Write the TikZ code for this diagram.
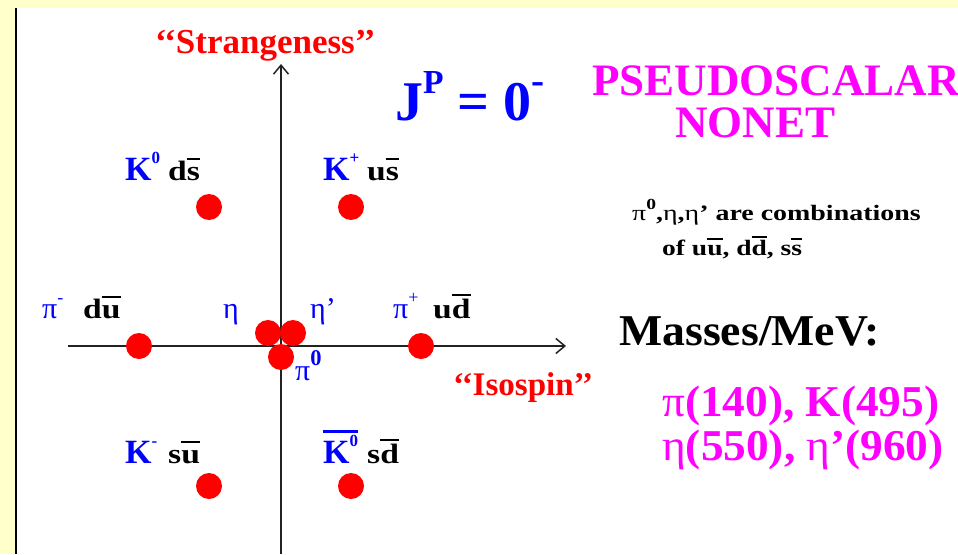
\documentclass[tikz,border=0pt]{standalone}
\usepackage{fontspec}
\setmainfont{Liberation Serif}
\usetikzlibrary{arrows.meta,positioning}
\definecolor{slidebg}{HTML}{FFFFCC}
\definecolor{axisink}{HTML}{222222}
\definecolor{dotred}{HTML}{FF0000}
\definecolor{mesblue}{HTML}{0000FF}
\definecolor{titlemag}{HTML}{FF00FF}
\newsavebox\antibox
\newcommand\anti[1]{\sbox\antibox{#1}%
  \ifdim\ht\antibox<0.62em \ht\antibox=0.62em\fi
  \rlap{\raisebox{\dimexpr\ht\antibox+0.08em\relax}{\rule{\wd\antibox}{0.07em}}}\usebox\antibox}
\newcommand\up[2][0.5]{\raisebox{0.48em}{\scalebox{#1}{#2}}}
\newcommand\gr[1]{{\mdseries #1}}
\newcommand\wide[2][1.2]{\scalebox{#1}[1]{#2}}
\tikzset{
  meson/.style={circle,fill=dotred,inner sep=0pt,minimum size=26pt},
  axisarr/.style={-{Straight Barb[length=9pt,width=15pt]},line width=1.5pt,color=axisink},
  axisname/.style={text=dotred,font=\fontsize{33}{36}\selectfont\bfseries,
                   anchor=base west,inner sep=0pt},
  mesname/.style={text=mesblue,font=\fontsize{34}{36}\selectfont\bfseries,
                  anchor=base west,inner sep=0pt},
  quarks/.style={text=black,font=\fontsize{28}{30}\selectfont\bfseries,
                 anchor=base west,inner sep=0pt},
  bigtitle/.style={text=titlemag,font=\fontsize{45}{48}\selectfont\bfseries,
                   anchor=base west,inner sep=0pt},
  masstext/.style={text=titlemag,font=\fontsize{44}{46}\selectfont\bfseries,
                   anchor=base west,inner sep=0pt},
  note/.style={text=black,font=\fontsize{22}{24}\selectfont\bfseries,
               anchor=base west,inner sep=0pt}
}
\begin{document}
\begin{tikzpicture}[x=1pt,y=-1pt]
  \useasboundingbox (0,0) rectangle (958,554);
  \fill[slidebg] (0,0) rectangle (958,554);
  \fill[white] (16,8) rectangle (958,554);
  \draw[line width=2pt,black] (16,8) -- (16,554);

  % axes
  \coordinate (sbot) at (281,554);
  \coordinate (stop) at (281,64);
  \coordinate (ileft) at (68,346);
  \coordinate (iright) at (566,346);
  \draw[axisarr] (sbot) -- (stop);
  \draw[axisarr] (ileft) -- (iright);
  \node[axisname,font=\fontsize{35}{38}\selectfont\bfseries] (strange) at (155,53) {‘‘Strangeness’’};
  \node[axisname] (isospin) at (453,395) {‘‘Isospin’’};

  % the nine states
  \node[meson] (kzero) at (209,207) {};
  \node[meson] (kplus) at (351,207) {};
  \node[meson] (piminus) at (139,346) {};
  \node[meson] (piplus) at (421,346) {};
  \node[meson] (eta) at (268,333) {};
  \node[meson] (etap) at (293,333) {};
  \node[meson] (pizero) at (281,357) {};
  \node[meson] (kminus) at (209,486) {};
  \node[meson] (kzerobar) at (351,486) {};

  \node[mesname] (kzeroname) at (125,180) {K\up{0}};
  \node[quarks] (kzeroq) at (168,180) {\wide{d\anti{s}}};
  \node[mesname] (kplusname) at (323,180) {K\up{+}};
  \node[quarks] (kplusq) at (367,180) {\wide{u\anti{s}}};
  \node[mesname,font=\fontsize{30}{32}\selectfont] (piminusname) at (42,318) {π\up[0.6]{-}};
  \node[quarks] (piminusq) at (83,318) {\wide{d\anti{u}}};
  \node[mesname,font=\fontsize{30}{32}\selectfont] (etaname) at (223,318) {η};
  \node[mesname,font=\fontsize{30}{32}\selectfont] (etapname) at (310,318) {η’};
  \node[mesname,font=\fontsize{30}{32}\selectfont] (piplusname) at (393,318) {π\up[0.6]{+}};
  \node[quarks] (piplusq) at (433,318) {\wide{u\anti{d}}};
  \node[mesname,font=\fontsize{30}{32}\selectfont] (pizeroname) at (295,380) {π\up[0.75]{\bfseries 0}};
  \node[mesname] (kminusname) at (125,463) {K\up{-}};
  \node[quarks] (kminusq) at (168,463) {\wide{s\anti{u}}};
  \node[mesname] (kzerobarname) at (323,463) {\anti{K\up{0}}};
  \node[quarks] (kzerobarq) at (367,463) {\wide{s\anti{d}}};

  % right-hand texts
  \node[mesname,font=\fontsize{56}{58}\selectfont\bfseries] (spin) at (395,120)
    {J\up[0.6]{P} = 0\up[0.7]{-}};
  \node[bigtitle] (title) at (592,95) {PSEUDOSCALAR};
  \node[bigtitle] (title2) at (675,137) {NONET};
  \node[note] (mixa) at (632,220) {\wide[1.27]{\gr{π}\up[0.7]{0},\gr{η},\gr{η}’ are combinations}};
  \node[note] (mixb) at (662,255) {\wide[1.25]{of u\anti{u}, d\anti{d}, s\anti{s}}};
  \node[note,font=\fontsize{44}{46}\selectfont\bfseries] (masses) at (619,345) {\wide[1.04]{Masses/MeV:}};
  \node[masstext] (massa) at (662,416) {\wide[1.03]{\gr{π}(140), K(495)}};
  \node[masstext] (massb) at (662,460) {\wide[1.03]{\gr{η}(550), \gr{η}’(960)}};
\end{tikzpicture}
\end{document}
